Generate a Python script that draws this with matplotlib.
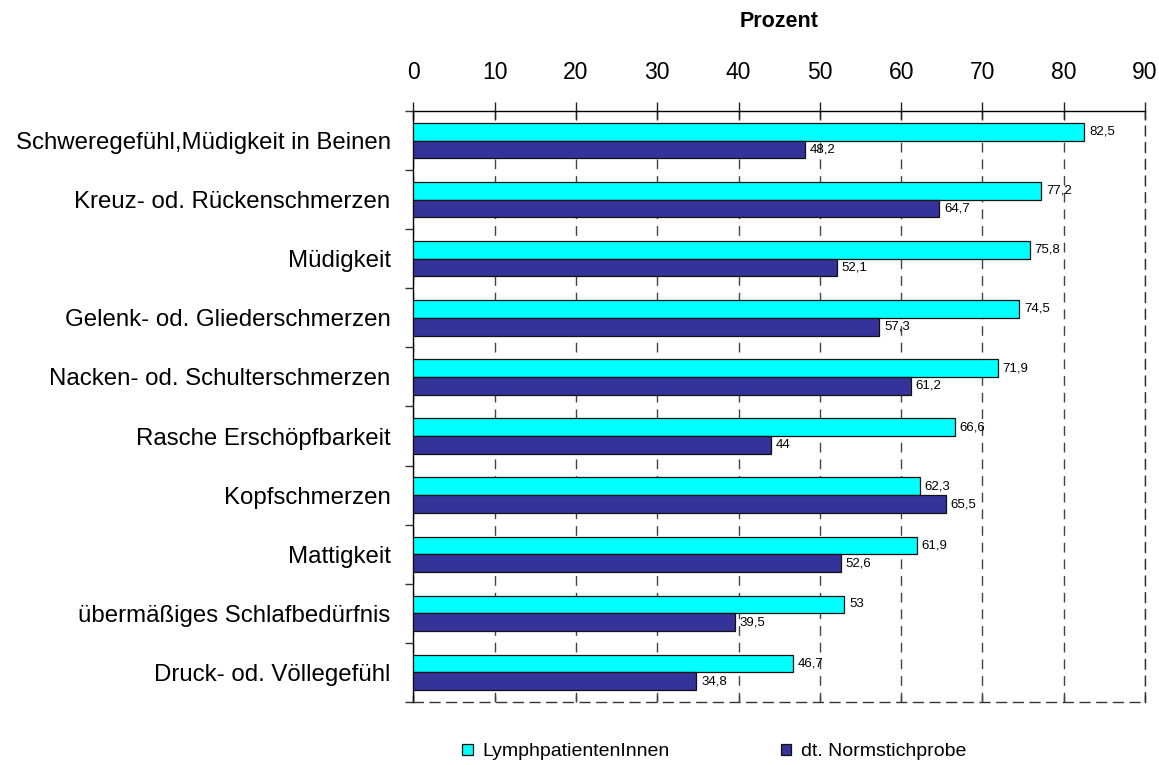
import matplotlib
matplotlib.use('Agg')
import matplotlib.pyplot as plt
from matplotlib.patches import Patch
import numpy as np

categories = [
    "Schweregefühl,Müdigkeit in Beinen",
    "Kreuz- od. Rückenschmerzen",
    "Müdigkeit",
    "Gelenk- od. Gliederschmerzen",
    "Nacken- od. Schulterschmerzen",
    "Rasche Erschöpfbarkeit",
    "Kopfschmerzen",
    "Mattigkeit",
    "übermäßiges Schlafbedürfnis",
    "Druck- od. Völlegefühl",
]
lymph = [82.5, 77.2, 75.8, 74.5, 71.9, 66.6, 62.3, 61.9, 53, 46.7]
norm = [48.2, 64.7, 52.1, 57.3, 61.2, 44, 65.5, 52.6, 39.5, 34.8]
series_names = ["LymphpatientenInnen", "dt. Normstichprobe"]
xticks = [0, 10, 20, 30, 40, 50, 60, 70, 80, 90]

c_lymph = '#00FFFF'
c_norm = '#333399'
dash = (0, (7, 5))

plt.rcParams['font.family'] = ['Liberation Sans', 'DejaVu Sans']
fig = plt.figure(figsize=(11.59, 7.65), dpi=100)
ax = fig.add_axes([413.5 / 1159, 1 - 702 / 765, (1145 - 413.5) / 1159, (702 - 111) / 765])

y = np.arange(len(categories))
h = 0.3
ax.barh(y - h / 2, lymph, height=h, color=c_lymph, edgecolor='#111111', linewidth=0.9, zorder=3)
ax.barh(y + h / 2, norm, height=h, color=c_norm, edgecolor='#111111', linewidth=0.9, zorder=3)

def fmt(v):
    return f"{v:g}".replace('.', ',')

for yi, v in zip(y, lymph):
    ax.text(v + 0.6, yi - h / 2, fmt(v), va='center', ha='left', fontsize=9.5, zorder=4)
for yi, v in zip(y, norm):
    ax.text(v + 0.6, yi + h / 2, fmt(v), va='center', ha='left', fontsize=9.5, zorder=4)

ax.set_xlim(0, 90)
ax.set_ylim(len(categories) - 0.5, -0.5)

ax.xaxis.tick_top()
ax.xaxis.set_label_position('top')
ax.set_xticks(xticks)
ax.set_xticklabels([str(t) for t in xticks], fontsize=16.5)
ax.tick_params(axis='x', which='major', direction='inout', length=12.5, width=1,
               pad=13, top=True, bottom=False, color='#222222')
ax.set_xlabel('Prozent', fontsize=15.5, fontweight='bold', labelpad=25)

sec = ax.secondary_xaxis('bottom')
sec.set_xticks(xticks)
sec.set_xticklabels([])
sec.tick_params(direction='in', length=5, width=1, color='#333333')
sec.spines['bottom'].set_visible(False)

ax.set_yticks(y)
ax.set_yticklabels(categories, fontsize=17.3)
ax.tick_params(axis='y', which='major', length=0, pad=16.5)
ax.set_yticks(np.arange(-0.5, len(categories) + 0.5, 1), minor=True)
ax.tick_params(axis='y', which='minor', direction='out', length=5.5, width=1, color='#333333')

ax.grid(axis='x', linestyle=dash, color='#444444', linewidth=1, zorder=0)
ax.set_axisbelow(True)

for s in ['top', 'left']:
    ax.spines[s].set_color('black')
    ax.spines[s].set_linewidth(1)
for s in ['right', 'bottom']:
    ax.spines[s].set_linestyle(dash)
    ax.spines[s].set_color('#333333')
    ax.spines[s].set_linewidth(1)

handles = [Patch(facecolor=c_lymph, edgecolor='#111111', linewidth=0.9),
           Patch(facecolor=c_norm, edgecolor='#111111', linewidth=0.9)]
fig.legend(handles, series_names, loc='center left', bbox_to_anchor=(462 / 1159, 1 - 752 / 765), ncol=2,
           frameon=False, fontsize=14, handlelength=0.55, handleheight=0.55,
           handletextpad=0.5, columnspacing=5.7, borderpad=0, borderaxespad=0)

fig.savefig('out.png', dpi=100)
